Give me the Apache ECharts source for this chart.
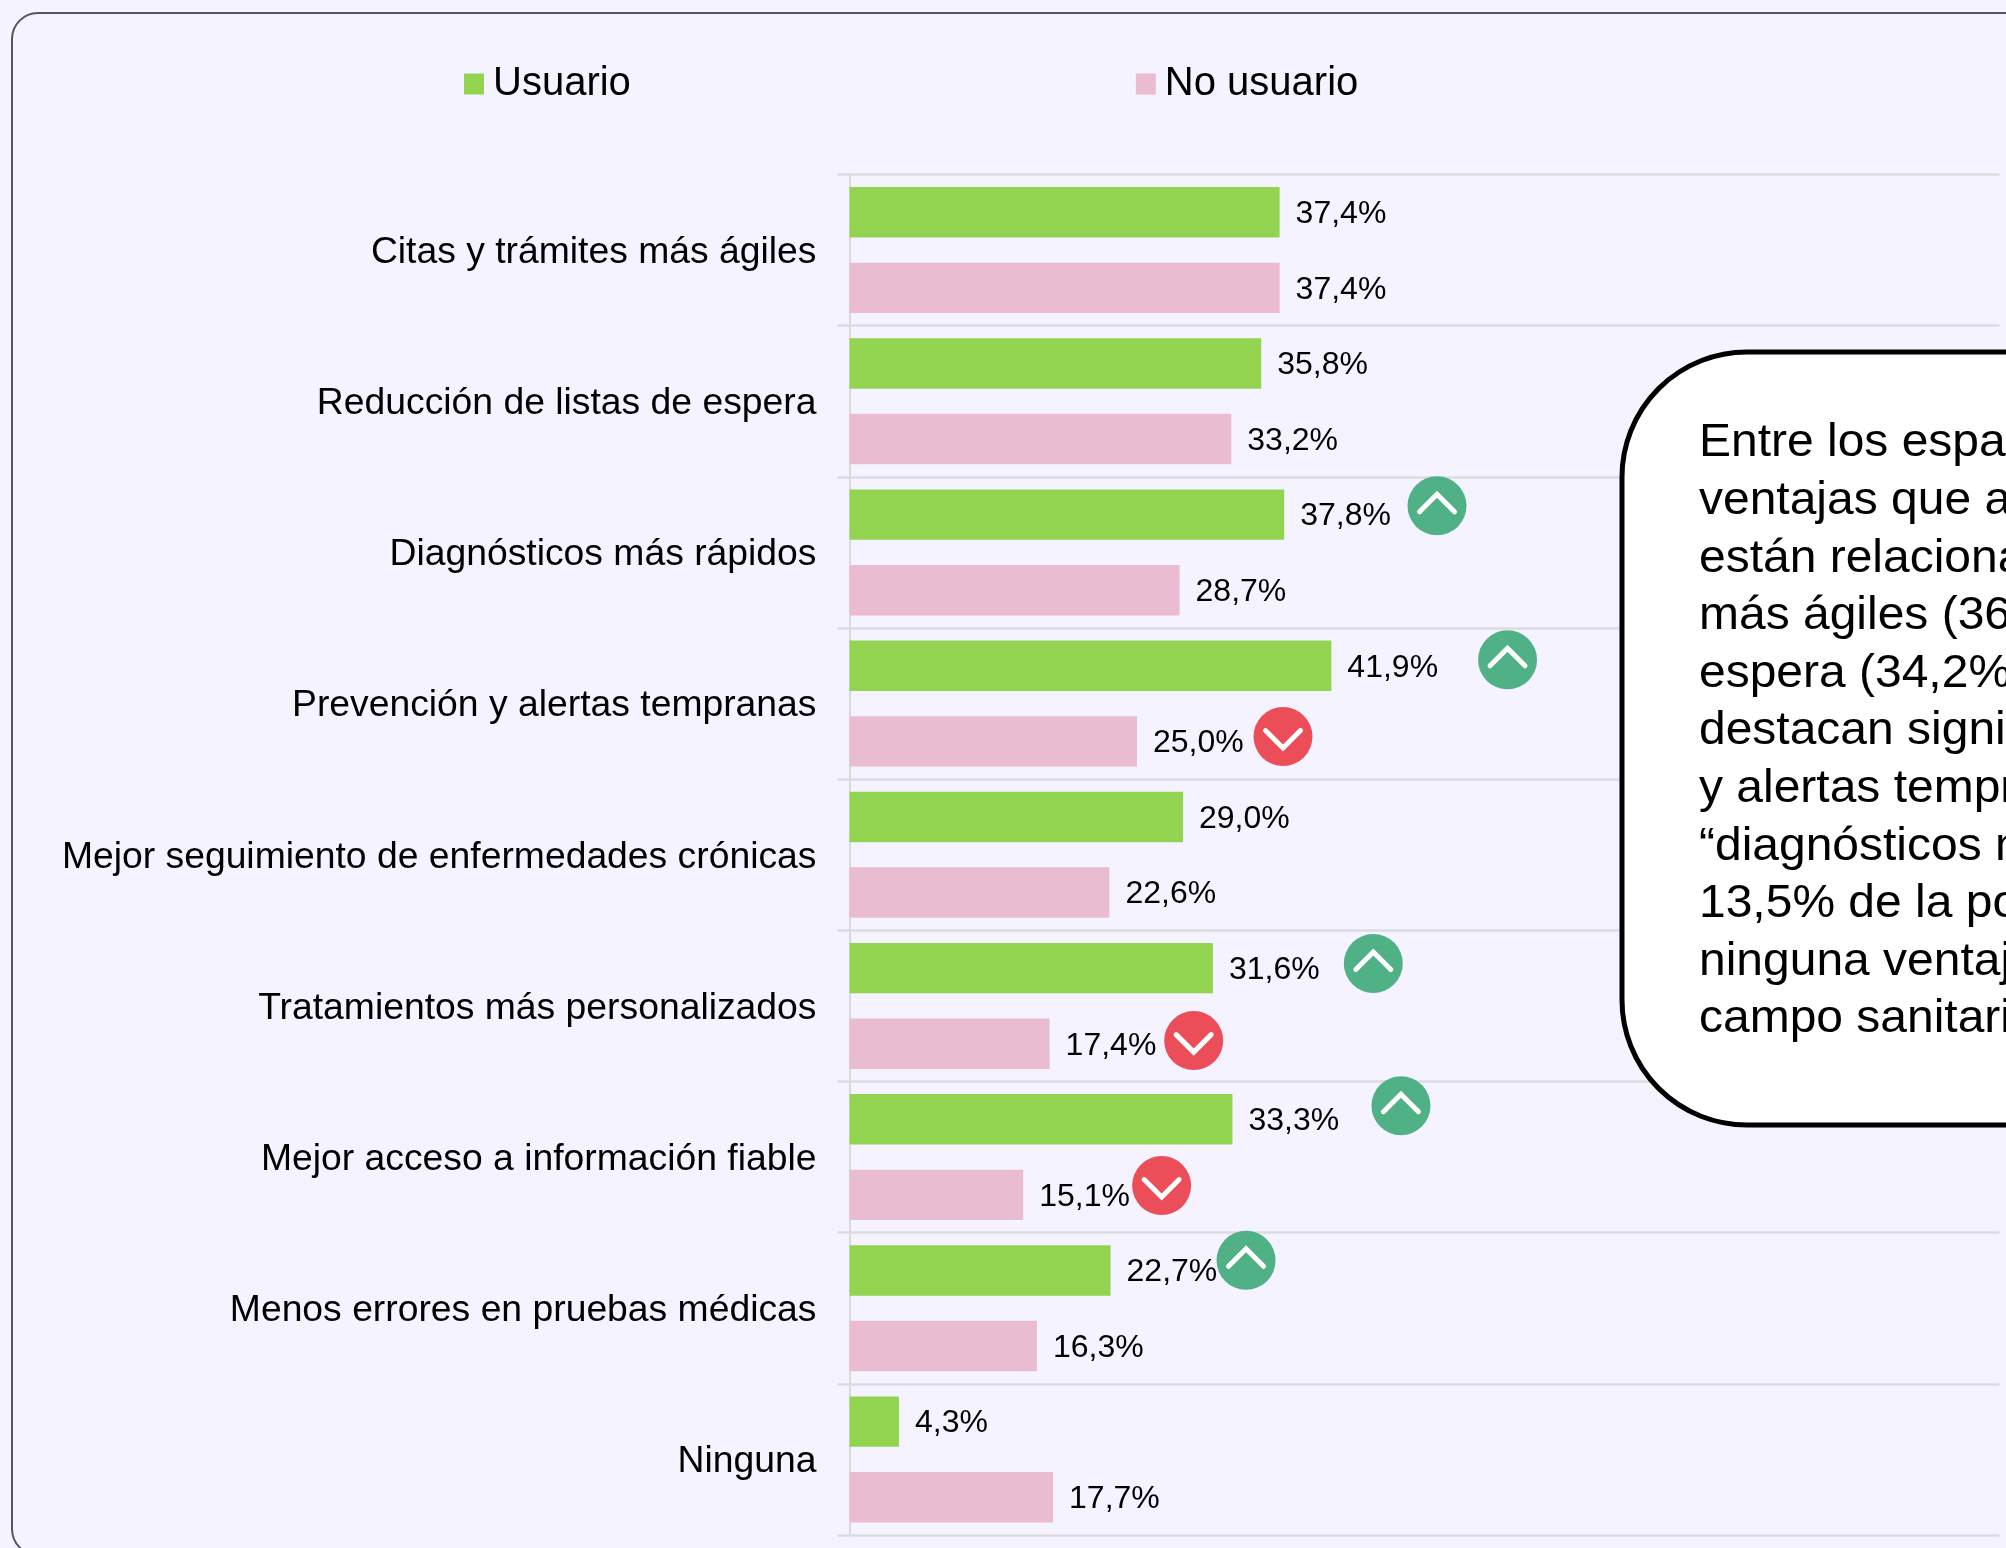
<!DOCTYPE html>
<html>
<head>
<meta charset="utf-8">
<title>Ventajas</title>
<style>
	html, body { margin: 0; padding: 0; background: #f5f3ff; }
	#chart { width: 2006px; height: 1548px; }
</style>
<script src="https://cdn.jsdelivr.net/npm/echarts@6/dist/echarts.min.js"></script>
</head>
<body>
<div id="chart"></div>
<script>
var categories = [
	'Citas y trámites más ágiles',
	'Reducción de listas de espera',
	'Diagnósticos más rápidos',
	'Prevención y alertas tempranas',
	'Mejor seguimiento de enfermedades crónicas',
	'Tratamientos más personalizados',
	'Mejor acceso a información fiable',
	'Menos errores en pruebas médicas',
	'Ninguna'
];
var usuario = [37.4, 35.8, 37.8, 41.9, 29.0, 31.6, 33.3, 22.7, 4.3];
var noUsuario = [37.4, 33.2, 28.7, 25.0, 22.6, 17.4, 15.1, 16.3, 17.7];

// flecha de tendencia por categoria: 1 sube, -1 baja, 0 nada
var trendUsuario = [0, 0, 1, 1, 0, 1, 1, 1, 0];
var trendNoUsuario = [0, 0, 0, -1, 0, -1, -1, 0, 0];

var calloutLines = [
	'Entre los espa',
	'ventajas que a',
	'están relaciona',
	'más ágiles (36',
	'espera (34,2%',
	'destacan signif',
	'y alertas tempr',
	'“diagnósticos m',
	'13,5% de la po',
	'ninguna ventaj',
	'campo sanitari'
];

// separacion de cada flecha respecto al final de su barra [dx, dy], en px
var badgeOffsetUsuario = {2: [152.8, -8.8], 3: [176.2, -6], 5: [160.4, -4.7], 6: [168.5, -13.6], 7: [135.5, -10.1]};
var badgeOffsetNoUsuario = {3: [146, -4.8], 5: [144.1, -3.1], 6: [138.5, -9.3]};

var FONT = '"Liberation Sans", Arial, sans-serif';
var BAR_W = 50.4;
var BADGE_R = 29.5;

var badgeData = [];
for (var i = 0; i < categories.length; i++) {
	if (trendUsuario[i] !== 0) {
		badgeData.push([usuario[i], i, trendUsuario[i], -1, badgeOffsetUsuario[i][0], badgeOffsetUsuario[i][1]]);
	}
	if (trendNoUsuario[i] !== 0) {
		badgeData.push([noUsuario[i], i, trendNoUsuario[i], 1, badgeOffsetNoUsuario[i][0], badgeOffsetNoUsuario[i][1]]);
	}
}

function renderBadge(params, api) {
	var p = api.coord([api.value(0), api.value(1)]);
	var dir = api.value(2);
	var cx = p[0] + api.value(4);
	var cy = p[1] + api.value(3) * BAR_W * 0.75 + api.value(5);
	return {
		type: 'group',
		children: [{
			type: 'circle',
			shape: { cx: cx, cy: cy, r: BADGE_R },
			style: { fill: dir > 0 ? '#51b186' : '#ec4e59' }
		}, {
			type: 'polyline',
			shape: {
				points: [
					[cx - 17.5, cy + dir * 6],
					[cx, cy - dir * 11.5],
					[cx + 17.5, cy + dir * 6]
				]
			},
			style: { fill: 'none', stroke: '#fff', lineWidth: 5, lineCap: 'round', lineJoin: 'miter' }
		}]
	};
}

function labelText(param) {
	return param.value.toFixed(1).replace('.', ',') + '%';
}

var barLabel = {
	show: true,
	position: 'right',
	distance: 16,
	offset: [0, 2],
	formatter: labelText,
	color: '#000',
	fontFamily: FONT,
	fontSize: 32
};

var myChart = echarts.init(document.getElementById('chart'), null, { renderer: 'canvas' });

myChart.setOption({
	animation: false,
	backgroundColor: '#f5f3ff',
	legend: {
		data: ['Usuario', 'No usuario'],
		left: 464,
		top: 64,
		padding: 0,
		itemWidth: 20,
		itemHeight: 21,
		itemGap: 505,
		icon: 'rect',
		textStyle: { color: '#000', fontFamily: FONT, fontSize: 40, padding: [0, 0, 0, 4] }
	},
	grid: { left: 849.5, top: 174.5, width: 1150, height: 1360.5 },
	xAxis: { type: 'value', min: 0, max: 100, show: false },
	yAxis: {
		type: 'category',
		inverse: true,
		data: categories,
		axisLine: { show: true, lineStyle: { color: '#d9d9d9', width: 2 } },
		axisTick: { show: true, length: 12, lineStyle: { color: '#dcdce0', width: 2.5 } },
		splitLine: { show: true, lineStyle: { color: '#dcdce0', width: 2.5 } },
		// top + lineHeight pequeno baja el texto unos px respecto al centro de la banda
		axisLabel: { color: '#000', fontFamily: FONT, fontSize: 37.3, margin: 33, verticalAlign: 'top', lineHeight: 5 }
	},
	series: [{
		name: 'Usuario',
		type: 'bar',
		data: usuario,
		barWidth: BAR_W,
		barGap: '50%',
		itemStyle: { color: '#92d350' },
		label: barLabel
	}, {
		name: 'No usuario',
		type: 'bar',
		data: noUsuario,
		barWidth: BAR_W,
		barGap: '50%',
		itemStyle: { color: '#eabcd2' },
		label: barLabel
	}, {
		type: 'custom',
		data: badgeData,
		renderItem: renderBadge,
		z: 5,
		silent: true
	}],
	graphic: [{
		type: 'rect',
		z: -1,
		shape: { x: 12, y: 13, width: 2100, height: 1542, r: 26 },
		style: { fill: 'none', stroke: '#55555c', lineWidth: 2 }
	}, {
		type: 'rect',
		z: 10,
		shape: { x: 1622, y: 352, width: 600, height: 773, r: 125 },
		style: { fill: '#fff', stroke: '#000', lineWidth: 5 }
	}, {
		type: 'text',
		z: 11,
		x: 1699,
		y: 415,
		scaleX: 1.043,
		style: {
			text: calloutLines.join('\n'),
			fill: '#000',
			font: '46px ' + FONT,
			lineHeight: 57.6,
			textAlign: 'left',
			textVerticalAlign: 'top'
		}
	}]
});
</script>
</body>
</html>
